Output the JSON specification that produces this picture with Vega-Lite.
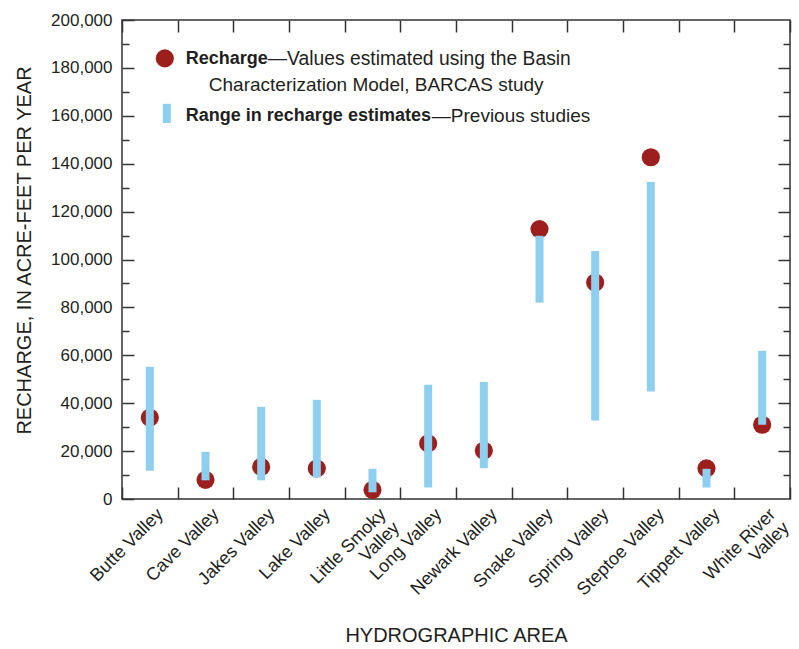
{
  "$schema": "https://vega.github.io/schema/vega-lite/v6.json",
  "width": 668,
  "height": 479,
  "autosize": {"type": "none"},
  "padding": {"left": 122, "top": 20, "right": 9, "bottom": 150},
  "background": "white",
  "config": {
    "view": {"stroke": "#333333", "strokeWidth": 1.5},
    "font": "Liberation Sans",
    "axis": {
      "domain": false,
      "tickColor": "#333333",
      "tickWidth": 1.5,
      "labelColor": "#231f20",
      "titleColor": "#231f20",
      "labelFont": "Liberation Sans",
      "titleFont": "Liberation Sans",
      "titleFontWeight": "normal",
      "grid": false
    }
  },
  "datasets": {
    "areas": [
      {"area": "Butte Valley", "recharge": 34000, "low": 11800, "high": 55200},
      {"area": "Cave Valley", "recharge": 8000, "low": 7800, "high": 19700},
      {"area": "Jakes Valley", "recharge": 13400, "low": 7800, "high": 38500},
      {"area": "Lake Valley", "recharge": 12800, "low": 9000, "high": 41400},
      {"area": "Little Smoky Valley", "recharge": 3800, "low": 2800, "high": 12600},
      {"area": "Long Valley", "recharge": 23200, "low": 4800, "high": 47700},
      {"area": "Newark Valley", "recharge": 20200, "low": 12800, "high": 48900},
      {"area": "Snake Valley", "recharge": 112700, "low": 82000, "high": 109900},
      {"area": "Spring Valley", "recharge": 90400, "low": 32800, "high": 103600},
      {"area": "Steptoe Valley", "recharge": 142700, "low": 44900, "high": 132400},
      {"area": "Tippett Valley", "recharge": 12800, "low": 4800, "high": 12600},
      {"area": "White River Valley", "recharge": 31000, "low": 31000, "high": 61900}
    ]
  },
  "layer": [
    {
      "data": {"name": "areas"},
      "mark": {"type": "point", "filled": true, "size": 330, "color": "#9C1F1D", "opacity": 1},
      "encoding": {
        "x": {
          "field": "area", "type": "nominal", "sort": null,
          "scale": {"type": "band", "paddingInner": 0, "paddingOuter": 0},
          "axis": {
            "orient": "bottom",
            "offset": -12,
            "title": "HYDROGRAPHIC AREA",
            "titleFontSize": 20,
            "titlePadding": 25,
            "labelAngle": -45,
            "labelAlign": "right",
            "labelBaseline": "top",
            "labelFontSize": 18,
            "labelPadding": 6,
            "labelOffset": 4,
            "labelLineHeight": 19,
            "labelOverlap": false,
            "tickSize": 12,
            "tickBand": "extent",
            "labelExpr": "datum.label == 'Little Smoky Valley' ? ['Little Smoky', 'Valley'] : datum.label == 'White River Valley' ? ['White River', 'Valley'] : datum.label"
          }
        },
        "y": {
          "field": "recharge", "type": "quantitative",
          "scale": {"domain": [0, 200000], "nice": false, "zero": true},
          "axis": {
            "orient": "left",
            "offset": -12,
            "title": "RECHARGE, IN  ACRE-FEET PER YEAR",
            "titleFontSize": 20,
            "titlePadding": 16,
            "titleY": 230,
            "labelFontSize": 17,
            "labelPadding": 10,
            "labelOverlap": false,
            "labelFlush": false,
            "values": [0, 20000, 40000, 60000, 80000, 100000, 120000, 140000, 160000, 180000, 200000],
            "labelExpr": "format(datum.value, ',')",
            "tickSize": 12
          }
        }
      }
    },
    {
      "data": {"name": "areas"},
      "mark": {"type": "bar", "width": 8, "color": "#8ECFF0"},
      "encoding": {
        "x": {
          "field": "area", "type": "nominal", "sort": null,
          "axis": {"orient": "top", "offset": -12, "title": null, "labels": false, "tickSize": 12, "tickBand": "extent"}
        },
        "y": {
          "field": "low", "type": "quantitative",
          "axis": {
            "orient": "right", "offset": -12, "title": null, "labels": false,
            "values": [20000, 40000, 60000, 80000, 100000, 120000, 140000, 160000, 180000],
            "tickSize": 12
          }
        },
        "y2": {"field": "high"}
      }
    },
    {
      "data": {"values": [{"item": "Recharge"}]},
      "mark": {"type": "point", "filled": true, "size": 330, "color": "#9C1F1D", "opacity": 1, "xOffset": 15},
      "encoding": {
        "x": {"datum": "Butte Valley", "type": "nominal", "axis": null},
        "y": {
          "datum": 184000, "type": "quantitative",
          "axis": {
            "orient": "left", "offset": -7, "title": null, "labels": false, "tickSize": 7,
            "values": [10000, 30000, 50000, 70000, 90000, 110000, 130000, 150000, 170000, 190000]
          }
        }
      }
    },
    {
      "data": {"values": [{"item": "Range"}]},
      "mark": {"type": "rule", "strokeWidth": 8, "strokeCap": "butt", "color": "#8ECFF0", "xOffset": 17},
      "encoding": {
        "x": {"datum": "Butte Valley", "type": "nominal", "axis": null},
        "y": {
          "datum": 165000, "type": "quantitative",
          "axis": {
            "orient": "right", "offset": -7, "title": null, "labels": false, "tickSize": 7,
            "values": [10000, 30000, 50000, 70000, 90000, 110000, 130000, 150000, 170000, 190000]
          }
        },
        "y2": {"datum": 157000}
      }
    },
    {
      "data": {"values": [{"t": "Recharge"}]},
      "mark": {"type": "text", "align": "left", "baseline": "middle", "fontSize": 18, "fontWeight": "bold", "color": "#231f20", "dx": 36},
      "encoding": {
        "x": {"datum": "Butte Valley", "type": "nominal", "axis": null},
        "y": {"datum": 183700, "type": "quantitative", "axis": null},
        "text": {"field": "t"}
      }
    },
    {
      "data": {"values": [{"t": "—Values estimated using the Basin"}]},
      "mark": {"type": "text", "align": "left", "baseline": "middle", "fontSize": 19.3, "color": "#231f20", "dx": 118},
      "encoding": {
        "x": {"datum": "Butte Valley", "type": "nominal", "axis": null},
        "y": {"datum": 183700, "type": "quantitative", "axis": null},
        "text": {"field": "t"}
      }
    },
    {
      "data": {"values": [{"t": "Characterization Model, BARCAS study"}]},
      "mark": {"type": "text", "align": "left", "baseline": "middle", "fontSize": 19, "color": "#231f20", "dx": 59},
      "encoding": {
        "x": {"datum": "Butte Valley", "type": "nominal", "axis": null},
        "y": {"datum": 172900, "type": "quantitative", "axis": null},
        "text": {"field": "t"}
      }
    },
    {
      "data": {"values": [{"t": "Range in recharge estimates"}]},
      "mark": {"type": "text", "align": "left", "baseline": "middle", "fontSize": 18, "fontWeight": "bold", "color": "#231f20", "dx": 36},
      "encoding": {
        "x": {"datum": "Butte Valley", "type": "nominal", "axis": null},
        "y": {"datum": 159900, "type": "quantitative", "axis": null},
        "text": {"field": "t"}
      }
    },
    {
      "data": {"values": [{"t": "—Previous studies"}]},
      "mark": {"type": "text", "align": "left", "baseline": "middle", "fontSize": 19, "color": "#231f20", "dx": 282},
      "encoding": {
        "x": {"datum": "Butte Valley", "type": "nominal", "axis": null},
        "y": {"datum": 159900, "type": "quantitative", "axis": null},
        "text": {"field": "t"}
      }
    }
  ],
  "resolve": {"axis": {"x": "independent", "y": "independent"}}
}
